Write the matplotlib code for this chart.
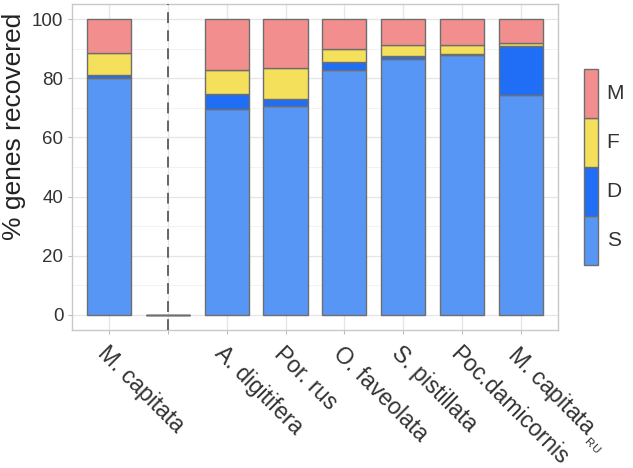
import numpy as np
import matplotlib.pyplot as plt

plt.rcParams['font.family'] = ['Liberation Sans', 'DejaVu Sans']
plt.rcParams['mathtext.fontset'] = 'custom'
plt.rcParams['mathtext.rm'] = 'Liberation Sans'

species = ["M. capitata", "", "A. digitifera", "Por. rus", "O. faveolata",
           "S. pistillata", "Poc.damicornis", r"M. capitata$\,_{_{\mathrm{RU}}}$"]
# % of genes recovered: Single, Duplicated, Fragmented, Missing
S = [80.2, 0, 69.7, 70.6, 82.8, 86.6, 87.7, 74.2]
D = [0.9, 0, 4.9, 2.3, 2.6, 0.9, 0.6, 16.7]
F = [7.3, 0, 8.3, 10.6, 4.6, 3.7, 3.1, 1.0]
M = [11.6, 0, 17.1, 16.5, 10.0, 8.8, 8.6, 8.1]

categories = ["S", "D", "F", "M"]
colors = {"S": "#5896F5", "D": "#1F6EF5", "F": "#F5E05C", "M": "#F28F8E"}
edge = "#6E6E6E"

fig = plt.figure(figsize=(6.33, 4.68), dpi=100)
ax = fig.add_axes([0.114, 0.295, 0.767, 0.6965])

x = np.arange(len(species))
bottom = np.zeros(len(species))
for cat, vals in zip(categories, [S, D, F, M]):
    vals = np.array(vals)
    ax.bar(x, vals, 0.75, bottom=bottom, color=colors[cat], edgecolor=edge,
           linewidth=1.0, zorder=3)
    bottom += vals

ax.axvline(1, color="#5a5a5a", linestyle=(0, (6, 4)), linewidth=1.3, zorder=4)

ax.set_xlim(-0.63, len(species) - 1 + 0.63)
ax.set_ylim(-5.1, 105.1)
ax.set_yticks([0, 20, 40, 60, 80, 100])
ax.set_yticks([10, 30, 50, 70, 90], minor=True)
ax.set_xticks(x)
ax.set_xticklabels(species, rotation=-45, ha="left", va="top",
                   rotation_mode="anchor", fontsize=16.5, color="#333333")
ax.tick_params(axis="y", labelsize=13.5, labelcolor="#333333", color="#bbbbbb",
               length=2.75, pad=3.6)
ax.tick_params(axis="x", color="#bbbbbb", length=2.75, pad=6)
ax.tick_params(which="minor", length=0)
ax.grid(which="major", color="#e6e6e6", linewidth=0.9, zorder=0)
ax.grid(which="minor", axis="y", color="#f0f0f0", linewidth=0.6, zorder=0)
for sp in ax.spines.values():
    sp.set_color("#c8c8c8")
    sp.set_linewidth(1.0)
ax.set_axisbelow(True)
fig.text(14 / 633, 1 - 126 / 468, "% genes recovered", rotation=90,
         ha="center", va="center", fontsize=19, color="#222222")

# legend drawn as its own small stacked bar
lax = fig.add_axes([584 / 633, 1 - 265 / 468, 13.7 / 633, 196 / 468])
for i, cat in enumerate(categories):
    lax.bar(0, 1, 1, bottom=i, color=colors[cat], edgecolor=edge, linewidth=1.0,
            clip_on=False)
    lax.text(1.15, i + 0.5, cat, transform=lax.transData, va="center", ha="left",
             fontsize=15, color="#333333", clip_on=False)
lax.set_xlim(-0.5, 0.5)
lax.set_ylim(0, 4)
lax.axis("off")

fig.savefig("out.png", dpi=100)
